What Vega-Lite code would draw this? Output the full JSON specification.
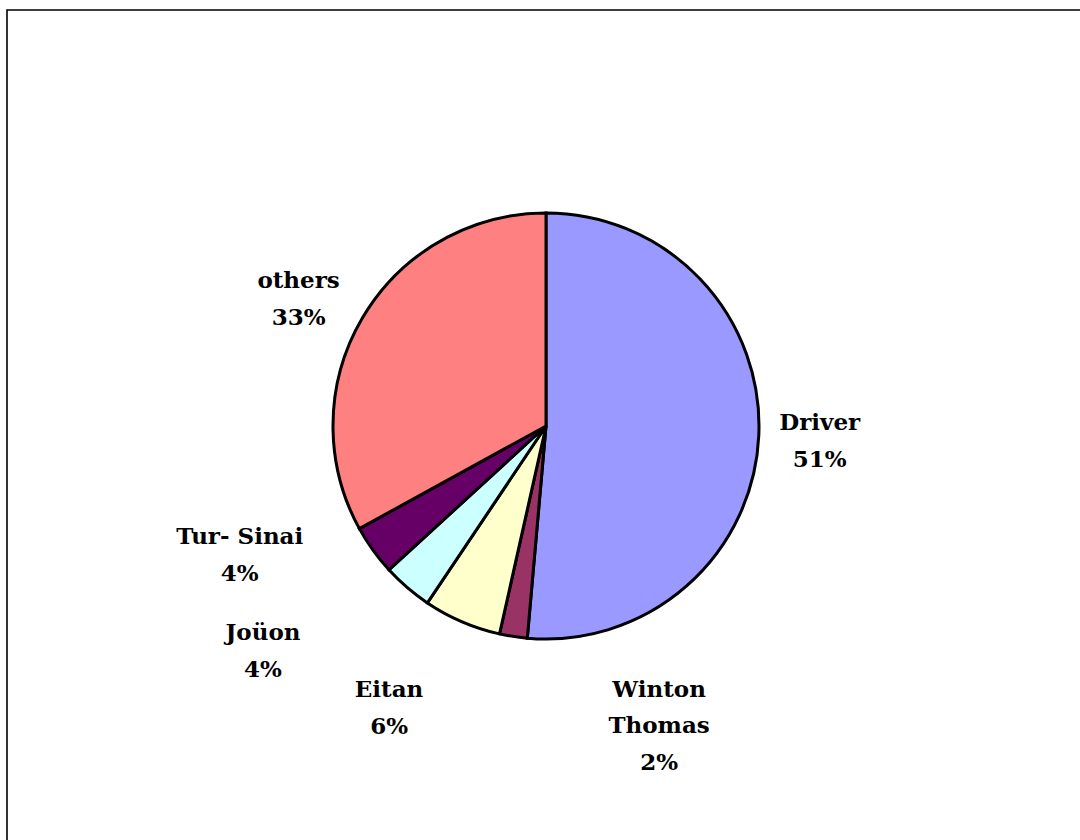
{
  "$schema": "https://vega.github.io/schema/vega-lite/v6.json",
  "autosize": "none",
  "padding": {"left": 7, "top": 10, "right": 0, "bottom": 0},
  "width": 1078,
  "height": 832,
  "background": "white",
  "config": {"view": {"stroke": null}},
  "data": {
    "values": [
      {"idx": 1, "name": "Driver", "share": 51.4},
      {"idx": 2, "name": "Winton Thomas", "share": 2.1},
      {"idx": 3, "name": "Eitan", "share": 5.9},
      {"idx": 4, "name": "Joüon", "share": 3.8},
      {"idx": 5, "name": "Tur- Sinai", "share": 3.8},
      {"idx": 6, "name": "others", "share": 33.0}
    ]
  },
  "transform": [
    {"window": [{"op": "sum", "field": "share", "as": "cum"}], "sort": [{"field": "idx"}], "frame": [null, 0]},
    {"calculate": "datum.cum - datum.share", "as": "start"},
    {"calculate": "datum.cum - datum.share / 2", "as": "mid"},
    {"calculate": "(datum.name == 'Winton Thomas' ? 'Winton\\nThomas' : datum.name) + '\\n' + format(datum.share, '.0f') + '%'", "as": "label"}
  ],
  "layer": [
    {
      "data": {"values": [{"frame": 1}]},
      "transform": [],
      "mark": {"type": "rect", "fill": null, "fillOpacity": 0, "stroke": "black", "strokeWidth": 1.6},
      "encoding": {}
    },
    {
      "mark": {"type": "arc", "outerRadius": 213, "stroke": "black", "strokeWidth": 3},
      "encoding": {
        "theta": {"field": "start", "type": "quantitative", "scale": {"domain": [0, 100], "zero": true, "nice": false}},
        "theta2": {"field": "cum"},
        "color": {
          "field": "name", "type": "nominal", "legend": null,
          "scale": {
            "domain": ["Driver", "Winton Thomas", "Eitan", "Joüon", "Tur- Sinai", "others"],
            "range": ["#9999FF", "#993366", "#FFFFCC", "#CCFFFF", "#660066", "#FF8080"]
          }
        }
      }
    },
    {
      "transform": [{"filter": "datum.name == 'Driver'"}],
      "mark": {"type": "text", "radius": 274, "dy": -15.5, "lineBreak": "\n", "font": "DejaVu Serif", "fontWeight": "bold", "fontSize": 23, "lineHeight": 37, "align": "center", "baseline": "middle", "color": "black"},
      "encoding": {"theta": {"field": "mid", "type": "quantitative"}, "text": {"field": "label"}}
    },
    {
      "transform": [{"filter": "datum.name == 'Winton Thomas'"}],
      "mark": {"type": "text", "radius": 280, "dx": 156, "dy": -13, "lineBreak": "\n", "font": "DejaVu Serif", "fontWeight": "bold", "fontSize": 23, "lineHeight": 36.5, "align": "center", "baseline": "middle", "color": "black"},
      "encoding": {"theta": {"field": "mid", "type": "quantitative"}, "text": {"field": "label"}}
    },
    {
      "transform": [{"filter": "datum.name == 'Eitan'"}],
      "mark": {"type": "text", "radius": 322, "dx": -30, "dy": -31.5, "lineBreak": "\n", "font": "DejaVu Serif", "fontWeight": "bold", "fontSize": 23, "lineHeight": 37, "align": "center", "baseline": "middle", "color": "black"},
      "encoding": {"theta": {"field": "mid", "type": "quantitative"}, "text": {"field": "label"}}
    },
    {
      "transform": [{"filter": "datum.name == 'Joüon'"}],
      "mark": {"type": "text", "radius": 356, "dx": -51, "dy": -62.5, "lineBreak": "\n", "font": "DejaVu Serif", "fontWeight": "bold", "fontSize": 23, "lineHeight": 37, "align": "center", "baseline": "middle", "color": "black"},
      "encoding": {"theta": {"field": "mid", "type": "quantitative"}, "text": {"field": "label"}}
    },
    {
      "transform": [{"filter": "datum.name == 'Tur- Sinai'"}],
      "mark": {"type": "text", "radius": 324, "dx": -43, "dy": -77.5, "lineBreak": "\n", "font": "DejaVu Serif", "fontWeight": "bold", "fontSize": 23, "lineHeight": 37, "align": "center", "baseline": "middle", "color": "black"},
      "encoding": {"theta": {"field": "mid", "type": "quantitative"}, "text": {"field": "label"}}
    },
    {
      "transform": [{"filter": "datum.name == 'others'"}],
      "mark": {"type": "text", "radius": 277, "dx": -9, "dy": -3.5, "lineBreak": "\n", "font": "DejaVu Serif", "fontWeight": "bold", "fontSize": 23, "lineHeight": 37, "align": "center", "baseline": "middle", "color": "black"},
      "encoding": {"theta": {"field": "mid", "type": "quantitative"}, "text": {"field": "label"}}
    }
  ]
}
